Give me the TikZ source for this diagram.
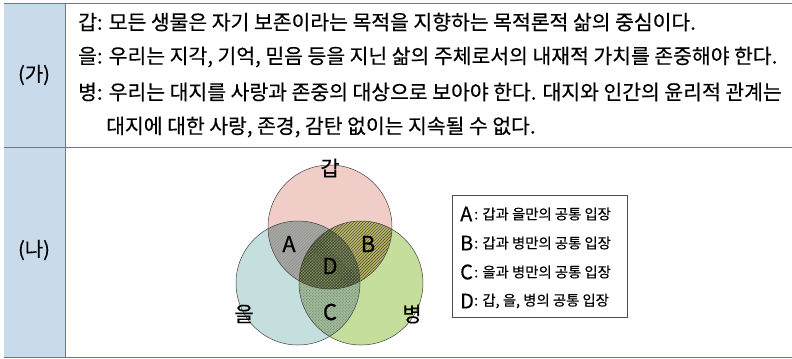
\documentclass[tikz,border=0pt]{standalone}
\usepackage{fontspec}
\setmainfont{Noto Sans CJK KR}[FakeBold=0.4]
\usetikzlibrary{patterns}

\definecolor{rulecol}{HTML}{3F8AA6}
\definecolor{headfill}{HTML}{C9DAEB}
\definecolor{gapfill}{HTML}{F0CEC7}
\definecolor{eulfill}{HTML}{C5DFDF}
\definecolor{byeongfill}{HTML}{C6DE9C}
\definecolor{afill}{HTML}{A9A9A3}
\definecolor{bfill}{HTML}{B6B271}
\definecolor{cfill}{HTML}{9EB898}
\definecolor{dfill}{HTML}{7E8D5F}

\tikzset{
  rowtext/.style={anchor=west, inner sep=0pt, font=\fontsize{20.5}{22}\selectfont},
  rowhead/.style={inner sep=0pt, font=\fontsize{20}{22}\selectfont},
  setname/.style={inner sep=0pt, font=\fontsize{21}{23}\selectfont},
  zone/.style={inner sep=0pt, font=\fontsize{22}{24}\selectfont},
  legletter/.style={anchor=west, inner sep=0pt, font=\fontsize{20}{22}\selectfont},
  legtext/.style={anchor=west, inner sep=0pt, font=\fontsize{14.4}{16}\selectfont},
  ring/.style={draw=black!75, line width=0.5pt}
}

\begin{document}
\begin{tikzpicture}[x=1bp,y=-1bp]
  \useasboundingbox (0,0) rectangle (792,358);

  % table frame
  \fill[headfill] (4,3) rectangle (65,357);
  \draw[rulecol, line width=1pt] (4,3) -- (792,3);
  \draw[rulecol, line width=1pt] (4,147) -- (792,147);
  \draw[rulecol, line width=1pt] (4,357) -- (792,357);
  \draw[rulecol, line width=1pt] (65,3) -- (65,357);

  \node[rowhead] (ga) at (34,75) {(가)};
  \node[rowhead] (na) at (34,250) {(나)};

  % statements
  \node[rowtext] (line1) at (78,22) {갑: 모든 생물은 자기 보존이라는 목적을 지향하는 목적론적 삶의 중심이다.};
  \node[rowtext] (line2) at (78,57) {을: 우리는 지각, 기억, 믿음 등을 지닌 삶의 주체로서의 내재적 가치를 존중해야 한다.};
  \node[rowtext] (line3) at (78,92) {병: 우리는 대지를 사랑과 존중의 대상으로 보아야 한다. 대지와 인간의 윤리적 관계는};
  \node[rowtext] (line4) at (106,127) {대지에 대한 사랑, 존경, 감탄 없이는 지속될 수 없다.};

  % venn diagram
  \coordinate (gap) at (330,227);
  \coordinate (eul) at (298,283);
  \coordinate (byeong) at (361,283);

  \fill[gapfill] (gap) circle[radius=62bp];
  \fill[eulfill] (eul) circle[radius=62bp];
  \fill[byeongfill] (byeong) circle[radius=62bp];

  \begin{scope}
    \clip (gap) circle[radius=62bp];
    \fill[afill] (eul) circle[radius=62bp];
    \fill[pattern=north east lines, pattern color=black!45] (eul) circle[radius=62bp];
  \end{scope}
  \begin{scope}
    \clip (gap) circle[radius=62bp];
    \fill[bfill] (byeong) circle[radius=62bp];
    \fill[pattern=north east lines, pattern color=black!40!olive] (byeong) circle[radius=62bp];
    \fill[pattern=dots, pattern color=black!60] (byeong) circle[radius=62bp];
  \end{scope}
  \begin{scope}
    \clip (eul) circle[radius=62bp];
    \fill[cfill] (byeong) circle[radius=62bp];
    \fill[pattern=crosshatch dots, pattern color=black!30!cfill] (byeong) circle[radius=62bp];
  \end{scope}
  \begin{scope}
    \clip (gap) circle[radius=62bp];
    \clip (eul) circle[radius=62bp];
    \fill[dfill] (byeong) circle[radius=62bp];
    \fill[pattern=crosshatch, pattern color=black!55!dfill] (byeong) circle[radius=62bp];
  \end{scope}

  \draw[ring] (gap) circle[radius=62bp];
  \draw[ring] (eul) circle[radius=62bp];
  \draw[ring] (byeong) circle[radius=62bp];

  \node[setname] (gap-name) at (330,168) {갑};
  \node[setname] (eul-name) at (244,314) {을};
  \node[setname] (byeong-name) at (412,314) {병};

  \node[zone] (zone-a) at (289,244) {A};
  \node[zone] (zone-b) at (368,244) {B};
  \node[zone] (zone-d) at (330,266) {D};
  \node[zone] (zone-c) at (330,312) {C};

  % legend
  \draw[black!70, line width=0.6pt] (452,195) rectangle (627,317);
  \node[legletter] (leg-a) at (460,214) {A};
  \node[legletter] (leg-b) at (460,243) {B};
  \node[legletter] (leg-c) at (460,272) {C};
  \node[legletter] (leg-d) at (460,301) {D};
  \node[legtext] (leg-a-text) at (474,214) {: 갑과 을만의 공통 입장};
  \node[legtext] (leg-b-text) at (474,243) {: 갑과 병만의 공통 입장};
  \node[legtext] (leg-c-text) at (474,272) {: 을과 병만의 공통 입장};
  \node[legtext] (leg-d-text) at (474,301) {: 갑, 을, 병의 공통 입장};
\end{tikzpicture}
\end{document}
